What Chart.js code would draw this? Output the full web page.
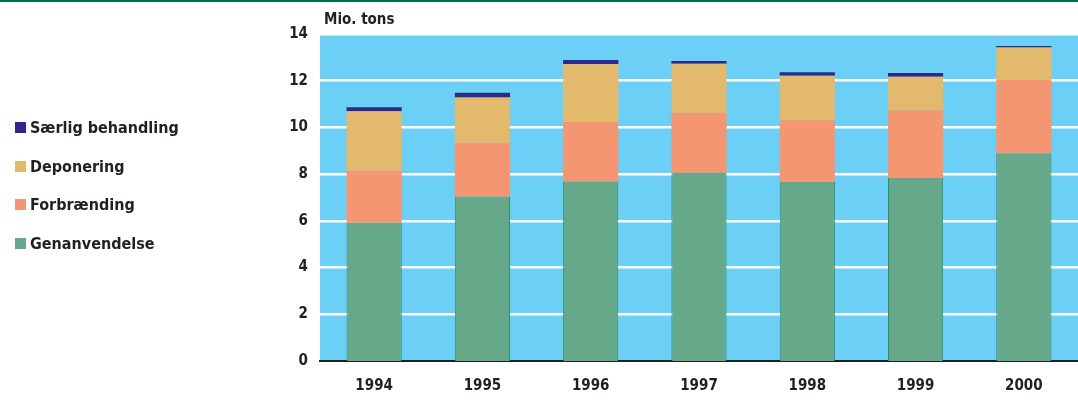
<!DOCTYPE html>
<html>
<head>
<meta charset="utf-8">
<script src="https://cdn.jsdelivr.net/npm/chart.js@4.4.0/dist/chart.umd.min.js"></script>
<style>
  body { margin: 0; background: #fff; }
  #wrap { position: relative; width: 1078px; height: 406px; border-top: 2px solid #00704A; box-sizing: border-box; }
  #legend { position: absolute; left: 15px; top: 116px; font-family: "Liberation Sans Narrow", "DejaVu Sans Condensed", sans-serif; font-weight: bold; font-size: 16px; color: #231F20; }
  #legend div { height: 38.5px; display: flex; align-items: flex-start; }
  #legend span.box { display: inline-block; width: 11px; height: 11px; margin-right: 4px; margin-top: 4px; }
</style>
</head>
<body>
<div id="wrap">
  <div id="legend"></div>
  <canvas id="c" width="1078" height="404"></canvas>
</div>
<script>
var years = ['1994', '1995', '1996', '1997', '1998', '1999', '2000'];
var genanvendelse = [5.92, 7.04, 7.69, 8.06, 7.67, 7.84, 8.89];
var forbraending = [2.23, 2.28, 2.54, 2.57, 2.64, 2.89, 3.14];
var deponering = [2.54, 1.96, 2.49, 2.10, 1.90, 1.44, 1.39];
var saerlig = [0.17, 0.21, 0.17, 0.11, 0.15, 0.16, 0.07];
var yTicks = [0, 2, 4, 6, 8, 10, 12, 14];

var font = '"Liberation Sans Narrow", "DejaVu Sans Condensed", sans-serif';

var series = [
  { label: 'Genanvendelse', data: genanvendelse, backgroundColor: '#66A98A', borderColor: '#2E8B66', borderWidth: { left: 1, right: 1, top: 0, bottom: 0 } },
  { label: 'Forbrænding', data: forbraending, backgroundColor: '#F59673', borderWidth: 0 },
  { label: 'Deponering', data: deponering, backgroundColor: '#E3B96E', borderWidth: 0 },
  { label: 'Særlig behandling', data: saerlig, backgroundColor: '#2B2A8A', borderWidth: 0 }
];

// html legend, top item is the last series
var legend = document.getElementById('legend');
series.slice().reverse().forEach(function(s) {
  var row = document.createElement('div');
  row.innerHTML = '<span class="box" style="background:' + s.backgroundColor + '"></span>' + s.label;
  legend.appendChild(row);
});

var plotBg = {
  id: 'plotBg',
  beforeDraw: function(chart) {
    var a = chart.chartArea, ctx = chart.ctx;
    ctx.save();
    ctx.fillStyle = '#6CCFF5';
    ctx.fillRect(a.left, a.top, a.right - a.left, a.bottom - a.top);
    ctx.restore();
  },
  afterDraw: function(chart) {
    var a = chart.chartArea, ctx = chart.ctx;
    ctx.save();
    ctx.fillStyle = '#231F20';
    ctx.font = 'bold 15px ' + font;
    ctx.textBaseline = 'bottom';
    ctx.fillText('Mio. tons', a.left + 4, a.top - 6);
    ctx.restore();
  }
};

new Chart(document.getElementById('c'), {
  type: 'bar',
  data: { labels: years, datasets: series },
  plugins: [plotBg],
  options: {
    responsive: false,
    animation: false,
    layout: { padding: { top: 32, right: 0, left: 0, bottom: 0 } },
    plugins: { legend: { display: false }, tooltip: { enabled: false } },
    datasets: { bar: { categoryPercentage: 1, barPercentage: 0.51 } },
    scales: {
      x: {
        stacked: true,
        grid: { display: false, drawTicks: false },
        border: { display: true, color: '#231F20', width: 2 },
        ticks: { color: '#231F20', font: { family: font, size: 15, weight: 'bold' }, padding: 16 },
        afterFit: function(s) { s.height = 45; }
      },
      y: {
        stacked: true,
        min: 0, max: 14,
        afterBuildTicks: function(s) { s.ticks = yTicks.map(function(v) { return { value: v }; }); },
        grid: { color: '#FFFFFF', lineWidth: function(c) { return c.tick && c.tick.value === 0 ? 0 : 2.5; }, drawTicks: false },
        border: { display: false },
        ticks: { color: '#231F20', font: { family: font, size: 15, weight: 'bold' }, padding: 12 },
        afterFit: function(s) { s.width = 320; }
      }
    }
  }
});
</script>
</body>
</html>
